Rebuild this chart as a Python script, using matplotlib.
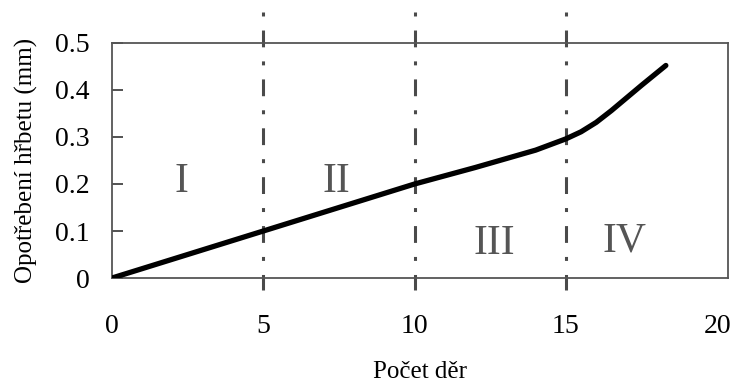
import matplotlib.pyplot as plt

# data
pocet_der = [0, 5, 10, 12, 14, 15, 15.5, 16, 16.5, 17, 17.5, 18.3]
opotrebeni = [0, 0.1, 0.2, 0.235, 0.272, 0.296, 0.311, 0.331, 0.356, 0.383, 0.41, 0.452]
hranice = [5, 10, 15]
oblasti = ['I', 'II', 'III', 'IV']
oblasti_x = [2.3, 7.4, 12.65, 16.95]
oblasti_y = [0.205, 0.205, 0.072, 0.078]
x_ticks = [0, 5, 10, 15, 20]
y_ticks = [0, 0.1, 0.2, 0.3, 0.4, 0.5]

plt.rcParams['font.family'] = ['Liberation Serif', 'DejaVu Serif']

fig = plt.figure(figsize=(7.36, 3.83), dpi=100)
ax = fig.add_axes([0.152, 0.274, 0.837, 0.614])

ax.plot(pocet_der, opotrebeni, color='black', linewidth=3.8,
        solid_capstyle='round', solid_joinstyle='round', zorder=3)

# svislé čerchované čáry mezi oblastmi (kreslené shora dolů)
for xv in hranice:
    ax.plot([xv, xv], [0.566, -0.026], color='#4a4a4a', linewidth=2.2,
            linestyle=(0, (1.3, 4.6, 5.5, 4.6)), clip_on=False, zorder=2)

for txt, xv, yv in zip(oblasti, oblasti_x, oblasti_y):
    ax.text(xv, yv, txt, fontsize=30, color='#555555', ha='center', va='center')

ax.set_xlim(0, 20.35)
ax.set_ylim(0, 0.5)
ax.set_xticks(x_ticks)
ax.set_yticks(y_ticks)
ax.set_yticklabels(['0', '0.1', '0.2', '0.3', '0.4', '0.5'])
ax.tick_params(axis='x', length=0, pad=26, labelsize=20)
ax.tick_params(axis='y', direction='in', length=8, width=1.3, color='#444444', pad=16, labelsize=20)

for s in ax.spines.values():
    s.set_color('#555555')
    s.set_linewidth(1.3)

ax.set_xlabel('Počet děr', fontsize=18, labelpad=16)
ax.set_ylabel('Opotřebení hřbetu (mm)', fontsize=18, labelpad=12)

fig.savefig('out.png', dpi=100)
